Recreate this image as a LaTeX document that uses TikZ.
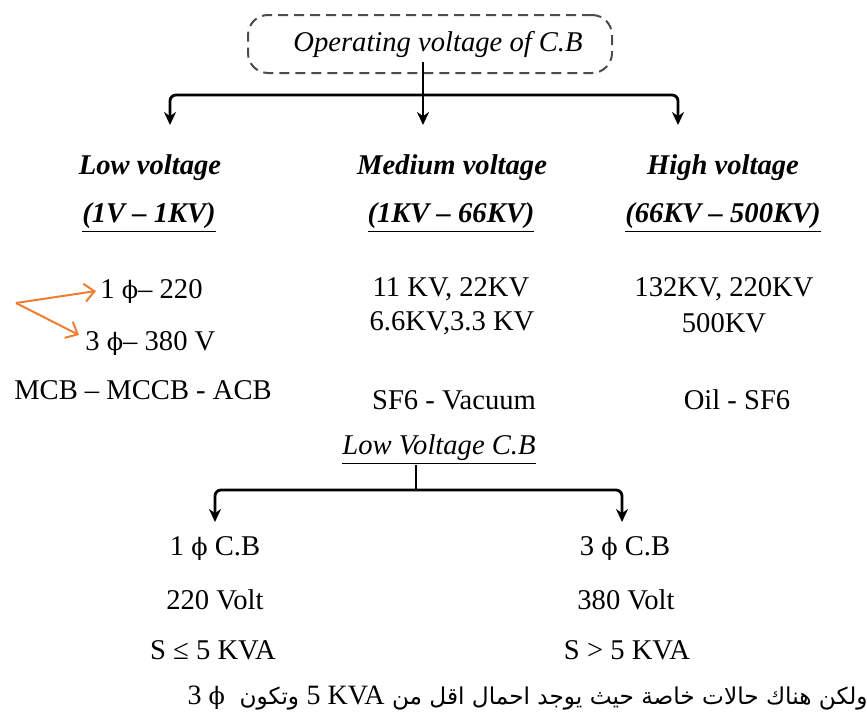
\documentclass[tikz,border=0pt]{standalone}
\usepackage{fontspec}
\setmainfont{Liberation Serif}
\newfontfamily\arabicfont[Script=Arabic]{DejaVu Sans}
\newfontfamily\phifont{DejaVu Serif}
\TeXXeTstate=1
\usetikzlibrary{arrows.meta}
\definecolor{orng}{RGB}{237,125,49}
\newcommand{\myphi}{{\phifont\fontsize{12}{14}\selectfont ϕ}}
\begin{document}
\begin{tikzpicture}[
  x=0.5pt, y=-0.5pt,
  txt/.style={inner sep=0pt, font=\fontsize{14.3}{17}\selectfont},
  head/.style={inner sep=0pt, font=\fontsize{14.3}{17}\selectfont\bfseries\itshape},
  ital/.style={inner sep=0pt, font=\fontsize{14.3}{17}\selectfont\itshape},
  branch/.style={line width=1.4pt, -{Stealth[length=6.5pt,width=6pt]}, rounded corners=3pt},
  stemline/.style={line width=1.4pt},
  orangearrow/.style={draw=orng, line width=1pt, -{Straight Barb[length=5pt,width=9pt]}},
  titlebox/.style={draw=black!70, dash pattern=on 5pt off 3pt, line width=1pt, rounded corners=10pt, minimum width=182pt, minimum height=29pt, inner sep=0pt}
]
\useasboundingbox (0,0) rectangle (867,718);

% title
\node[titlebox, ital] (title) at (430,44) {\hspace*{8pt}Operating voltage of C.B};
\coordinate (stemtop) at (423,62);
\coordinate (hub) at (423,95);
\coordinate (tl) at (170,125);
\coordinate (tm) at (423,125);
\coordinate (tr) at (678,125);
\draw[stemline] (stemtop) -- (hub);
\draw[branch] (hub) -| (tl);
\draw[branch] (hub) -| (tr);
\draw[branch] (hub) -- (tm);

% headers
\node[head] (low1) at (150,168) {Low voltage};
\node[head] (low2) at (149,218) {\underline{(1V – 1KV)}};
\node[head] (med1) at (452,168) {Medium voltage};
\node[head] (med2) at (451,218) {\underline{(1KV – 66KV)}};
\node[head] (high1) at (723,168) {High voltage};
\node[head] (high2) at (723,218) {\underline{(66KV – 500KV)}};

% low column
\node[txt, anchor=west] (low3) at (100,291) {1 \myphi– 220};
\node[txt, anchor=west] (low4) at (85,343) {3 \myphi– 380 V};
\node[txt] (low5) at (143,390) {MCB – MCCB - ACB};
\coordinate (o) at (16,303);
\draw[orangearrow] (o) -- ([xshift=-2pt]low3.west);
\draw[orangearrow] (o) -- ([xshift=-3pt,yshift=4pt]low4.west);

% medium column
\node[txt] (med3) at (451,289) {11 KV, 22KV};
\node[txt] (med4) at (452,323) {6.6KV,3.3 KV};
\node[txt] (med5) at (454,400) {SF6 - Vacuum};

% high column
\node[txt] (high3) at (724,289) {132KV, 220KV};
\node[txt] (high4) at (724,323) {500KV};
\node[txt] (high5) at (737,400) {Oil - SF6};

% low voltage C.B
\node[ital] (lvcb) at (439,450) {\underline{Low Voltage C.B}};
\coordinate (hub2) at (416,490);
\coordinate (bl) at (215,522);
\coordinate (br) at (622,522);
\draw[stemline] (lvcb.south -| hub2) -- (hub2);
\draw[branch] (hub2) -| (bl);
\draw[branch] (hub2) -| (br);

\node[txt] (a1) at (215,549) {1 \myphi\ C.B};
\node[txt] (a2) at (215,600) {220 Volt};
\node[txt] (a3) at (213,650) {S ≤ 5 KVA};
\node[txt] (b1) at (625,549) {3 \myphi\ C.B};
\node[txt] (b2) at (626,600) {380 Volt};
\node[txt] (b3) at (627,650) {S > 5 KVA};

% arabic line
\node[inner sep=0pt, anchor=east, font=\fontsize{11.6}{14}\selectfont] (note) at (868,698)
  {\arabicfont\beginR ولكن هناك حالات خاصة حيث يوجد احمال اقل من \beginL{\rmfamily\fontsize{14}{16}\selectfont 5 KVA}\endL{} وتكون \ \beginL{\rmfamily\fontsize{14}{16}\selectfont 3 \myphi}\endL\endR};
\end{tikzpicture}
\end{document}
